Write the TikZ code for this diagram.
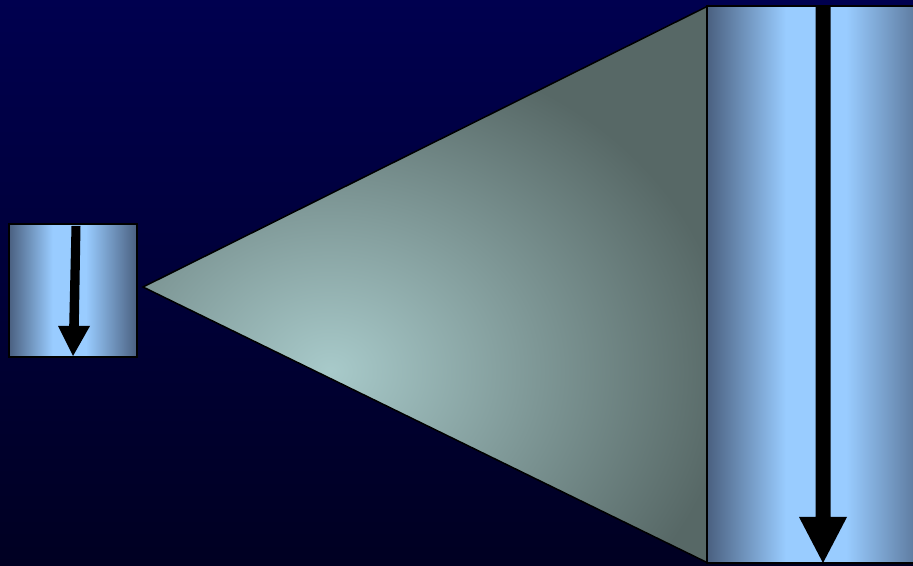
\documentclass[tikz,border=0pt]{standalone}
\definecolor{bgtop}{HTML}{00004F}
\definecolor{bgbot}{HTML}{000022}
\definecolor{boxdark}{HTML}{4A6080}
\definecolor{boxlight}{HTML}{99CCFF}
\definecolor{trilight}{HTML}{A8CACA}
\definecolor{tridark}{HTML}{576866}
\pgfdeclarehorizontalshading{boxshade}{100bp}{color(0bp)=(boxdark); color(25bp)=(boxdark); color(42bp)=(boxlight); color(55bp)=(boxlight); color(75bp)=(boxdark); color(100bp)=(boxdark)}
\tikzset{
  outline/.style={draw=black, line width=1.5pt, line join=miter},
  arrowshape/.style={fill=black},
  boxfill/.style={shading=boxshade}
}
\begin{document}
\begin{tikzpicture}[x=1pt,y=1pt]
\useasboundingbox (0,0) rectangle (913,565);
\clip (0,0) rectangle (913,565);
% background
\shade[top color=bgtop, bottom color=bgbot] (0,0) rectangle (913,565);
% key points
\coordinate (apex) at (143,278);
\coordinate (trtop) at (708,559);
\coordinate (trbot) at (708,2);
% triangle (magnifying cone)
\begin{scope}
  \clip (apex) -- (trtop) -- (trbot) -- cycle;
  \fill[tridark] (apex) -- (trtop) -- (trbot) -- cycle;
  \shade[inner color=trilight, outer color=tridark] (330,194) ellipse [x radius=400, y radius=330];
\end{scope}
\draw[outline] (apex) -- (trtop) -- (trbot) -- cycle;
% small box
\coordinate (sbl) at (9,208);
\coordinate (str) at (137,341);
\shade[boxfill] (sbl) rectangle (str);
\draw[outline] (sbl) rectangle (str);
% small arrow
\fill[arrowshape] (71.5,339) -- (80.5,339) -- (78.8,239) -- (90,239) -- (73,209) -- (58,239) -- (69.2,239) -- cycle;
% big box
\coordinate (bbl) at (707,2);
\coordinate (btr) at (939,559);
\shade[boxfill] (bbl) rectangle (btr);
\draw[outline] (bbl) rectangle (btr);
% big arrow
\fill[arrowshape] (815.5,559) -- (830.5,559) -- (830.5,48) -- (847,48) -- (823,2) -- (799,48) -- (815.5,48) -- cycle;
\end{tikzpicture}
\end{document}
